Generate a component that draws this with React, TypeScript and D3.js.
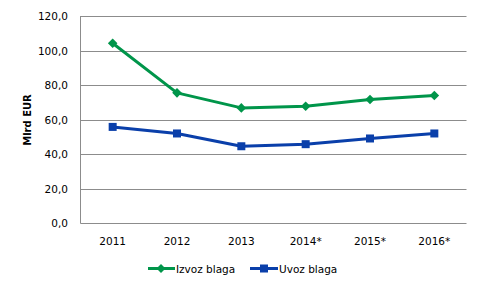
import React from "react";
import * as d3 from "d3";

const categories = ["2011", "2012", "2013", "2014*", "2015*", "2016*"];
const izvoz = [104.2, 75.5, 66.8, 67.8, 71.7, 74.0];
const uvoz = [55.8, 52.0, 44.6, 45.8, 49.1, 52.0];
const yTicks = [0, 20, 40, 60, 80, 100, 120];

const W = 482, H = 290;
const M = { left: 80.5, right: 466.5, top: 16, bottom: 223.3 };
const GREEN = "#00954A";
const BLUE = "#0A3FAA";
const GRID = "#8C8C8C";
const FONT = "DejaVu Sans, Verdana, sans-serif";

export default function App() {
  const x = d3.scaleBand<string>().domain(categories).range([M.left, M.right]);
  const y = d3.scaleLinear().domain([0, 120]).range([M.bottom, M.top]);
  const cx = (c: string) => (x(c) as number) + x.bandwidth() / 2;
  const line = d3.line<number>().x((_, i) => cx(categories[i])).y((v) => y(v));
  const fmt = (v: number) => v.toFixed(1).replace(".", ",");
  const diamond = (px: number, py: number, r: number) =>
    `M${px},${py - r}L${px + r},${py}L${px},${py + r}L${px - r},${py}Z`;

  return (
    <svg width={W} height={H} style={{ position: "absolute", left: 0, top: 0 }}>
      <rect width={W} height={H} fill="#fff" />
      {yTicks.map((t) => (
        <g key={t}>
          {t > 0 && (
            <line x1={M.left} x2={M.right} y1={Math.round(y(t)) + 0.5} y2={Math.round(y(t)) + 0.5} stroke={GRID} strokeWidth={1} />
          )}
          <text x={68} y={y(t) + 4} textAnchor="end" fontFamily={FONT} fontSize={10.5} fill="#000">
            {fmt(t)}
          </text>
        </g>
      ))}
      <line x1={M.left} x2={M.left} y1={M.top} y2={Math.round(M.bottom) + 0.5} stroke={GRID} strokeWidth={1} />
      <line x1={M.left} x2={M.right} y1={Math.round(M.bottom) + 0.5} y2={Math.round(M.bottom) + 0.5} stroke={GRID} strokeWidth={1} />
      {categories.map((c) => (
        <text key={c} x={cx(c)} y={245} textAnchor="middle" fontFamily={FONT} fontSize={10.5} fill="#000">
          {c}
        </text>
      ))}
      <text
        transform={`translate(31,120) rotate(-90)`}
        textAnchor="middle"
        fontFamily={FONT}
        fontSize={10}
        fontWeight="bold"
        fill="#000"
      >
        Mlrd EUR
      </text>
      <path d={line(izvoz) || ""} fill="none" stroke={GREEN} strokeWidth={3} strokeLinejoin="round" />
      {izvoz.map((v, i) => (
        <path key={i} d={diamond(cx(categories[i]), y(v), 4.8)} fill={GREEN} />
      ))}
      <path d={line(uvoz) || ""} fill="none" stroke={BLUE} strokeWidth={3} strokeLinejoin="round" />
      {uvoz.map((v, i) => (
        <rect key={i} x={cx(categories[i]) - 4} y={y(v) - 4} width={8} height={8} fill={BLUE} />
      ))}
      {/* legend */}
      <line x1={148} x2={175} y1={268.5} y2={268.5} stroke={GREEN} strokeWidth={3} />
      <path d={diamond(161, 268.5, 4.5)} fill={GREEN} />
      <text x={176} y={272.5} fontFamily={FONT} fontSize={10.5} fill="#000">Izvoz blaga</text>
      <line x1={250} x2={278} y1={268.5} y2={268.5} stroke={BLUE} strokeWidth={3} />
      <rect x={260} y={264.5} width={8} height={8} fill={BLUE} />
      <text x={279} y={272.5} fontFamily={FONT} fontSize={10.5} fill="#000">Uvoz blaga</text>
    </svg>
  );
}
